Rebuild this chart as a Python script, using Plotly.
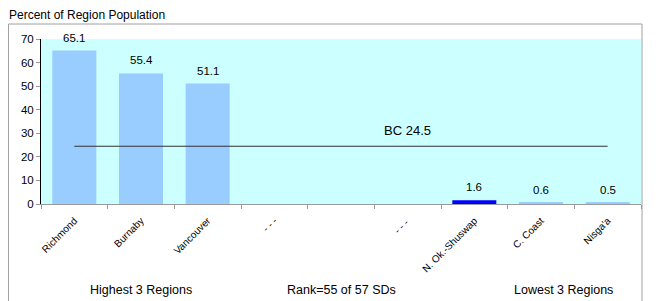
import plotly.graph_objects as go

categories = ["Richmond", "Burnaby", "Vancouver", "- - -", " ", "- - - ", "N. Ok.-Shuswap", "C. Coast", "Nisga'a"]
values = [65.1, 55.4, 51.1, None, None, None, 1.6, 0.6, 0.5]
value_labels = ["65.1", "55.4", "51.1", "", "", "", "1.6", "0.6", "0.5"]
bar_colors = ["#99CCFF", "#99CCFF", "#99CCFF", "#99CCFF", "#99CCFF", "#99CCFF", "#0000FF", "#99CCFF", "#99CCFF"]
bc_value = 24.5
bc_label = "BC 24.5"
group_labels = ["Highest 3 Regions", "Rank=55 of 57 SDs", "Lowest 3 Regions"]
group_positions = [1, 4, 7.33]
y_title = "Percent of Region Population"

FONT = "Liberation Sans, Arial, sans-serif"

fig = go.Figure()
fig.add_trace(go.Bar(
    x=categories, y=[v if v is not None else 0 for v in values],
    marker=dict(color=bar_colors, line=dict(width=0)),
    width=0.66, hoverinfo="skip",
))
fig.add_trace(go.Scatter(
    x=categories, y=[bc_value] * len(categories), mode="lines",
    line=dict(color="#333333", width=1), hoverinfo="skip",
))

for c, v, t in zip(categories, values, value_labels):
    if v is None:
        continue
    fig.add_annotation(x=c, y=v, text=t, showarrow=False, yanchor="bottom",
                       yshift=5, font=dict(family=FONT, size=11.5, color="#000000"))

fig.add_annotation(x=5, y=bc_value, text=bc_label, showarrow=False, yanchor="bottom",
                   yshift=6, font=dict(family=FONT, size=13, color="#000000"))

for lbl, pos in zip(group_labels, group_positions):
    fig.add_annotation(x=pos, xref="x", y=-0.467, yref="paper", text=lbl, showarrow=False,
                       yanchor="top", font=dict(family=FONT, size=12.5, color="#000000"))

fig.add_annotation(x=-0.057, xref="paper", y=1.2, yref="paper", text=y_title,
                   showarrow=False, xanchor="left", yanchor="top",
                   font=dict(family=FONT, size=12, color="#000000"))

# outer chart border
fig.add_shape(type="rect", xref="paper", yref="paper", x0=-0.0542, x1=1.0017,
              y0=-0.7, y1=1.0909, line=dict(color="#A0A0A0", width=1), layer="below")

fig.update_layout(
    width=661, height=293,
    margin=dict(l=33, r=28, t=31, b=97, autoexpand=False),
    paper_bgcolor="white", plot_bgcolor="#CCFFFF",
    showlegend=False, bargap=0.34,
    font=dict(family=FONT, size=11, color="#000000"),
)
fig.update_xaxes(
    type="category", tickson="boundaries", ticks="outside", ticklen=4,
    tickcolor="#999999", showline=True, linecolor="#999999", linewidth=1,
    tickangle=-45, tickfont=dict(family=FONT, size=10), showgrid=False,
    range=[-0.5, 8.5], automargin=False, ticklabelstandoff=6,
)
fig.update_yaxes(
    range=[0, 70], dtick=10, ticks="outside", ticklen=4, tickcolor="#999999",
    showline=True, linecolor="#000000", linewidth=1, showgrid=False,
    zeroline=False, tickfont=dict(family=FONT, size=11.5), automargin=False,
)

fig.write_html("out.html")
